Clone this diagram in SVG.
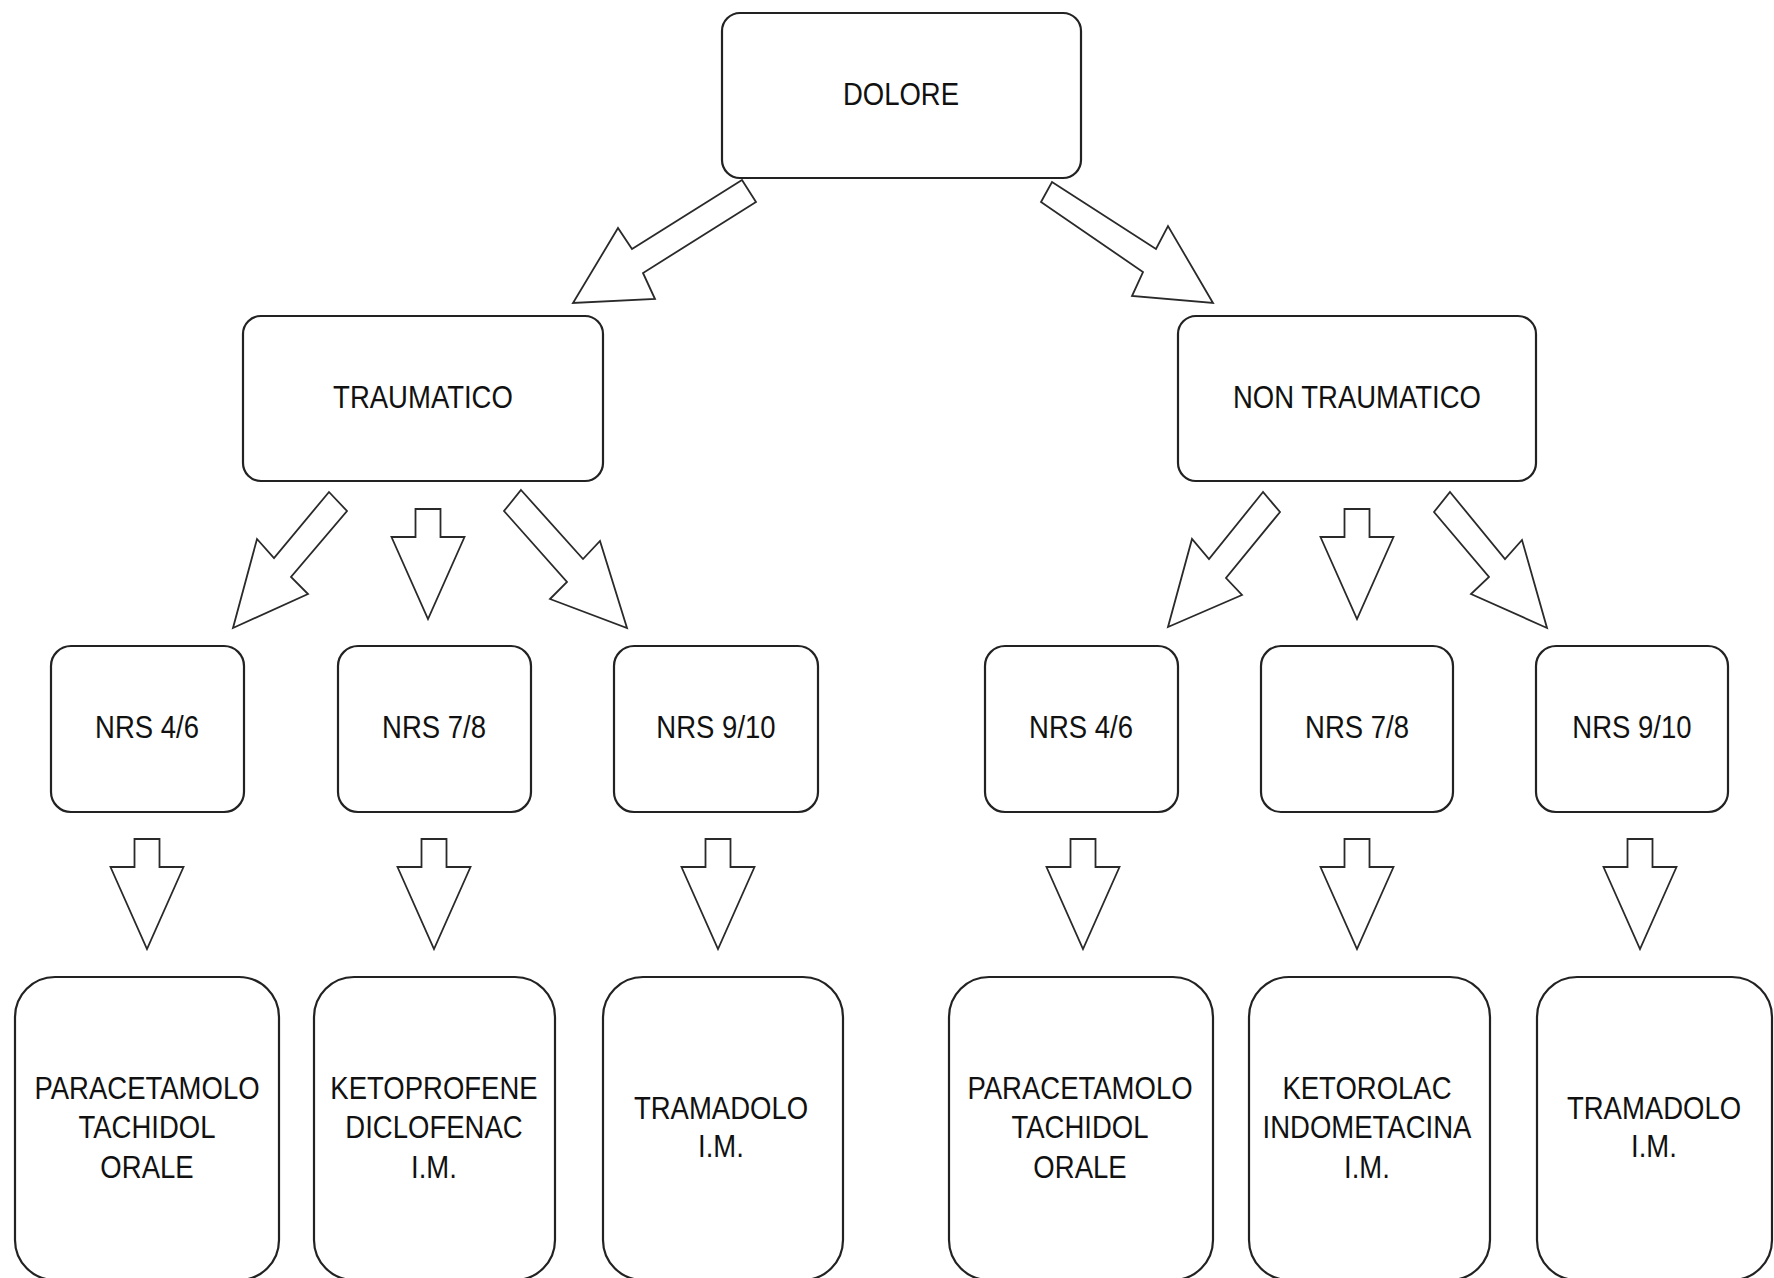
<svg xmlns="http://www.w3.org/2000/svg" xmlns:xlink="http://www.w3.org/1999/xlink" width="1774" height="1278" viewBox="0 0 1774 1278">
<style>
.box{fill:#fff;stroke:#222;stroke-width:2.2}
.arr{fill:#fff;stroke:#2a2a2a;stroke-width:1.8;stroke-linejoin:miter}
.t{font-family:"Liberation Sans",Arial,sans-serif;font-size:32px;fill:#111;text-anchor:middle;transform-box:fill-box;transform-origin:center;transform:scaleX(0.86)}
</style>
<defs>
<path id="down" d="M-12.5,0 H12.5 V28 H36.5 L0,110 L-36.5,28 H-12.5 Z"/>
</defs>
<rect width="1774" height="1278" fill="#fff"/>
<g id="connectors">
<polygon class="arr" points="742,180 632,249 618,228 573,303 655,299 643,273 756,202"/>
<polygon class="arr" points="1052,182 1156,249 1168,226 1213,303 1132,296 1143,272 1041,202"/>
<polygon class="arr" points="329,492 274,558 257,539 233,628 308,594 291,577 347,511"/>
<polygon class="arr" points="521,490 583,559 600,541 627,628 550,599 567,582 504,511"/>
<polygon class="arr" points="1263,492 1209,559 1192,539 1168,627 1242,595 1226,578 1280,512"/>
<polygon class="arr" points="1450,492 1505,559 1522,540 1547,628 1471,594 1489,577 1434,512"/>
<use xlink:href="#down" class="arr" transform="translate(428,509)"/>
<use xlink:href="#down" class="arr" transform="translate(1357,509)"/>
<use xlink:href="#down" class="arr" transform="translate(147,839)"/>
<use xlink:href="#down" class="arr" transform="translate(434,839)"/>
<use xlink:href="#down" class="arr" transform="translate(718,839)"/>
<use xlink:href="#down" class="arr" transform="translate(1083,839)"/>
<use xlink:href="#down" class="arr" transform="translate(1357,839)"/>
<use xlink:href="#down" class="arr" transform="translate(1640,839)"/>
</g>
<g id="dolore"><rect class="box" x="722" y="13" width="359" height="165" rx="18"/><text class="t" x="901" y="105">DOLORE</text></g>
<g id="traumatico"><rect class="box" x="243" y="316" width="360" height="165" rx="18"/><text class="t" x="423" y="408">TRAUMATICO</text></g>
<g id="non-traumatico"><rect class="box" x="1178" y="316" width="358" height="165" rx="18"/><text class="t" x="1357" y="408">NON TRAUMATICO</text></g>
<g id="t-nrs46"><rect class="box" x="51" y="646" width="193" height="166" rx="20"/><text class="t" x="147" y="738">NRS 4/6</text></g>
<g id="t-nrs78"><rect class="box" x="338" y="646" width="193" height="166" rx="20"/><text class="t" x="434" y="738">NRS 7/8</text></g>
<g id="t-nrs910"><rect class="box" x="614" y="646" width="204" height="166" rx="20"/><text class="t" x="716" y="738">NRS 9/10</text></g>
<g id="n-nrs46"><rect class="box" x="985" y="646" width="193" height="166" rx="20"/><text class="t" x="1081" y="738">NRS 4/6</text></g>
<g id="n-nrs78"><rect class="box" x="1261" y="646" width="192" height="166" rx="20"/><text class="t" x="1357" y="738">NRS 7/8</text></g>
<g id="n-nrs910"><rect class="box" x="1536" y="646" width="192" height="166" rx="20"/><text class="t" x="1632" y="738">NRS 9/10</text></g>
<g id="t-para"><rect class="box" x="15" y="977" width="264" height="303" rx="40"/><text class="t" x="147" y="1099">PARACETAMOLO</text><text class="t" x="147" y="1138">TACHIDOL</text><text class="t" x="147" y="1178">ORALE</text></g>
<g id="t-keto"><rect class="box" x="314" y="977" width="241" height="303" rx="40"/><text class="t" x="434" y="1099">KETOPROFENE</text><text class="t" x="434" y="1138">DICLOFENAC</text><text class="t" x="434" y="1178">I.M.</text></g>
<g id="t-tram"><rect class="box" x="603" y="977" width="240" height="303" rx="40"/><text class="t" x="721" y="1119">TRAMADOLO</text><text class="t" x="721" y="1157">I.M.</text></g>
<g id="n-para"><rect class="box" x="949" y="977" width="264" height="303" rx="40"/><text class="t" x="1080" y="1099">PARACETAMOLO</text><text class="t" x="1080" y="1138">TACHIDOL</text><text class="t" x="1080" y="1178">ORALE</text></g>
<g id="n-keto"><rect class="box" x="1249" y="977" width="241" height="303" rx="40"/><text class="t" x="1367" y="1099">KETOROLAC</text><text class="t" x="1367" y="1138">INDOMETACINA</text><text class="t" x="1367" y="1178">I.M.</text></g>
<g id="n-tram"><rect class="box" x="1537" y="977" width="235" height="303" rx="40"/><text class="t" x="1654" y="1119">TRAMADOLO</text><text class="t" x="1654" y="1157">I.M.</text></g>
</svg>
